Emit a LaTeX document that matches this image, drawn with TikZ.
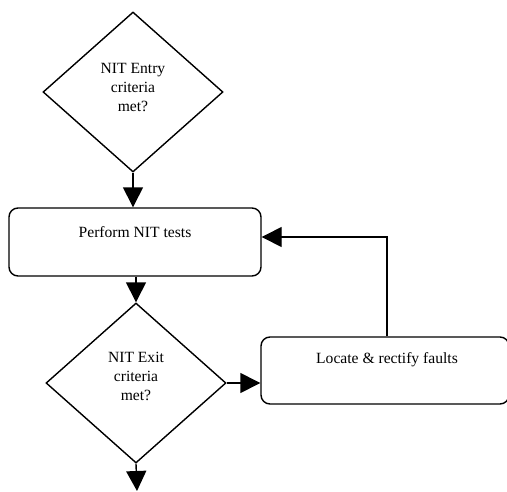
\documentclass[tikz,border=0pt]{standalone}
\usepackage{fontspec}
\setmainfont{Liberation Serif}
\usetikzlibrary{shapes.geometric,arrows.meta}
\begin{document}
\begin{tikzpicture}[x=1pt,y=-1pt,
  line width=1.4pt,
  decision/.style={draw, diamond, minimum width=180pt, minimum height=160pt, inner sep=0pt},
  box/.style={draw, rectangle, rounded corners=9pt, inner sep=0pt},
  txt/.style={font=\fontsize{15.6}{19}\selectfont, align=center, inner sep=0pt},
  arr/.style={-{Triangle[length=20pt,width=20pt]}}]
\useasboundingbox (0,0) rectangle (507,491);
\clip (0,0) rectangle (507,491);
% nodes
\node[decision] (d1) at (133,92) {};
\node[txt] (t1) at (133,87) {NIT Entry\\criteria\\met?};
\node[box, minimum width=252pt, minimum height=68pt] (r1) at (135,242) {};
\node[txt] (t2) at (135,232) {Perform NIT tests};
\node[decision] (d2) at (136,383) {};
\node[txt] (t3) at (136,376) {NIT Exit\\criteria\\met?};
\node[box, minimum width=248pt, minimum height=67pt] (r2) at (385,370.5) {};
\node[txt] (t4) at (387,360) {Locate \& rectify faults};
\coordinate (end) at (137,491);
\coordinate (fb) at (387,237);
% connectors
\draw[arr] (d1.south) -- (d1.south |- r1.north);
\draw[arr] (r1.south -| d2.north) -- (d2.north);
\draw[arr] (d2.east) -- (r2.west |- d2.east);
\draw[arr] (fb |- r2.north) -- (fb) -- (r1.east |- fb);
\draw[arr] (d2.south) -- (end);
\end{tikzpicture}
\end{document}
